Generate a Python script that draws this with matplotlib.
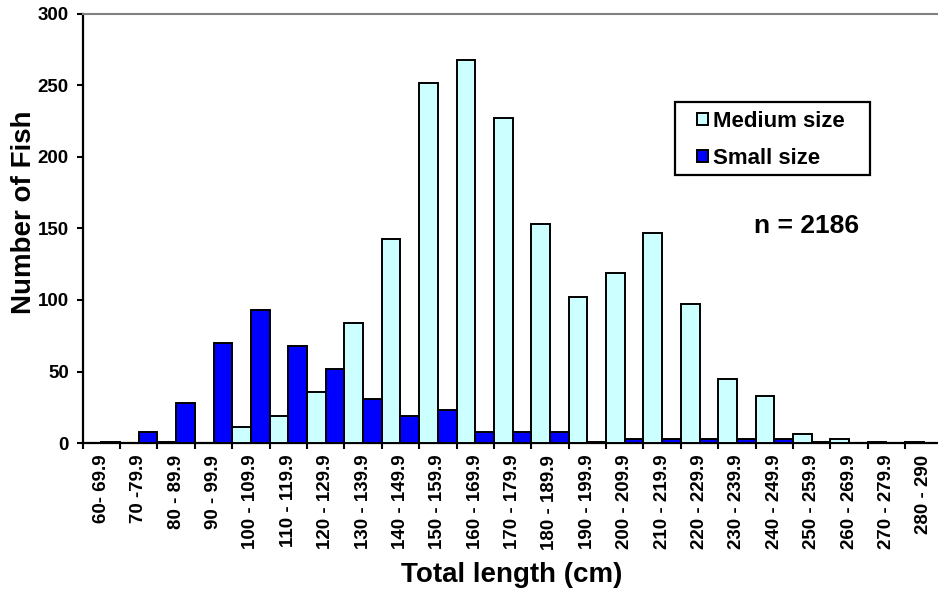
import matplotlib
matplotlib.use("Agg")
import matplotlib.pyplot as plt
from matplotlib.patches import Rectangle, Patch
import numpy as np

plt.rcParams['font.family'] = ['Liberation Sans', 'DejaVu Sans']
plt.rcParams['font.weight'] = 'bold'

categories = ["60- 69.9", "70 -79.9", "80 - 89.9", "90 - 99.9", "100 - 109.9",
              "110 - 119.9", "120 - 129.9", "130 - 139.9", "140 - 149.9",
              "150 - 159.9", "160 - 169.9", "170 - 179.9", "180 - 189.9",
              "190 - 199.9", "200 - 209.9", "210 - 219.9", "220 - 229.9",
              "230 - 239.9", "240 - 249.9", "250 - 259.9", "260 - 269.9",
              "270 - 279.9", "280 - 290"]
medium_size = [0, 0, 1, 0, 11, 19, 36, 84, 143, 252, 268, 227, 153, 102,
               119, 147, 97, 45, 33, 6, 3, 1, 1]
small_size = [1, 8, 28, 70, 93, 68, 52, 31, 19, 23, 8, 8, 8, 1,
              3, 3, 3, 3, 3, 1, 0, 0, 0]
yticks = [0, 50, 100, 150, 200, 250, 300]
series_names = ['Medium size', 'Small size']
series_colors = ['#CCFFFF', '#0000FF']

W, H = 938, 595
fig = plt.figure(figsize=(W / 100, H / 100), dpi=100)
left_px, right_px, top_px, bot_px = 82.7, 942.5, 14, 443
ax = fig.add_axes([left_px / W, 1 - bot_px / H, (right_px - left_px) / W, (bot_px - top_px) / H])

x = np.arange(len(categories))
med = np.array(medium_size, dtype=float)
sml = np.array(small_size, dtype=float)
lw_med = np.where(med > 0, 1.4, 0)
lw_sml = np.where(sml > 0, 1.4, 0)
ax.bar(x - 0.25, med, width=0.5, color=series_colors[0], edgecolor='black', linewidth=lw_med, zorder=3)
ax.bar(x + 0.25, sml, width=0.5, color=series_colors[1], edgecolor='black', linewidth=lw_sml, zorder=3)

ax.set_xlim(-0.5, len(categories) - 0.5)
ax.set_ylim(0, 300)
ax.set_yticks(yticks)
ax.set_yticklabels([str(v) for v in yticks], fontsize=13.5, fontweight='bold')
ax.set_xticks(x)
ax.set_xticklabels(categories, rotation=90, fontsize=13.5, fontweight='bold', va='top', ha='center')
ax.set_xticks(np.arange(len(categories) + 1) - 0.5, minor=True)
ax.tick_params(axis='x', which='major', length=0, pad=8.5)
ax.tick_params(axis='x', which='minor', length=4, width=1.5, direction='out')
ax.tick_params(axis='y', length=4, width=1.5, direction='out', pad=6)

for s in ['left', 'bottom']:
    ax.spines[s].set_linewidth(1.6)
    ax.spines[s].set_color('black')
ax.spines['right'].set_visible(False)
ax.spines['top'].set_color('#808080')
ax.spines['top'].set_linewidth(1.5)

fig.text(24 / W, 1 - 212 / H, 'Number of Fish', rotation=90, fontsize=20, fontweight='bold',
         ha='center', va='center')
fig.text(512 / W, 1 - 575 / H, 'Total length (cm)', fontsize=20, fontweight='bold',
         ha='center', va='center')
fig.text(807 / W, 1 - 226 / H, 'n = 2186', fontsize=19, fontweight='bold', ha='center', va='center')

# legend
handles = [Patch(facecolor=c, edgecolor='black', linewidth=1.4) for c in series_colors]
leg = fig.legend(handles, series_names, loc='upper left', bbox_to_anchor=(697 / W, 1 - 111 / H),
                 bbox_transform=fig.transFigure, fontsize=16, frameon=False,
                 handlelength=0.5, handleheight=0.5, handletextpad=0.2, borderpad=0,
                 labelspacing=0.72, borderaxespad=0)
for t in leg.get_texts():
    t.set_fontweight('bold')
fig.patches.append(Rectangle((675 / W, 1 - 175 / H), (870 - 675) / W, (175 - 102) / H,
                             transform=fig.transFigure, facecolor='none', edgecolor='black',
                             linewidth=1.6, zorder=5))

fig.savefig('out.png', dpi=100)
